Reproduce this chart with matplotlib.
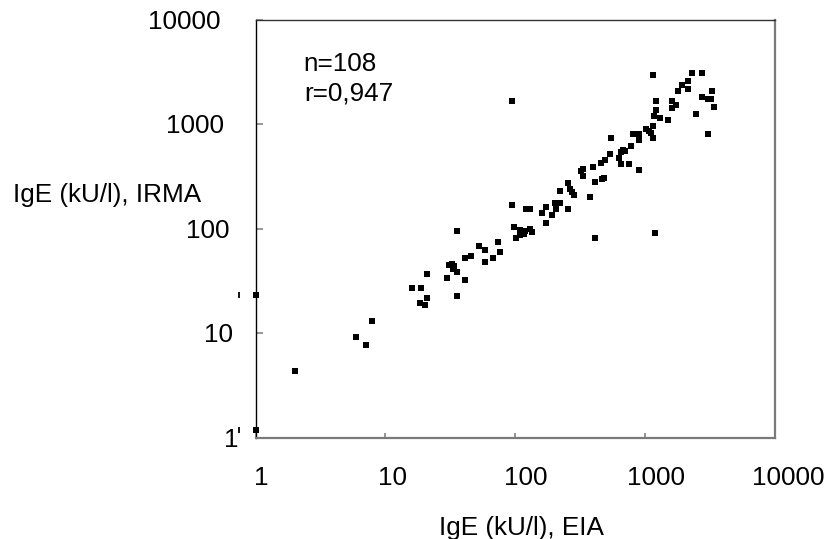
import matplotlib
matplotlib.use("Agg")
import matplotlib.pyplot as plt
import matplotlib.transforms as mtransforms
import numpy as np

# IgE concentrations (kU/l) measured by EIA (x) and by IRMA (y)
eia = [
    1, 1, 2.0, 5.9, 7.05, 7.9, 15.9, 18.8, 18.4, 20.2,
    21.0, 21.0, 29.6, 30.9, 32.3, 33.0, 34, 35.3, 35.6, 35.6,
    40.9, 41.1, 45.5, 52.7, 58.3, 58.3, 67, 74.3, 76.6, 94.4,
    94.4, 98.1, 101, 108, 113, 117, 122, 129, 129, 135,
    160, 171, 171, 191, 204, 205, 221, 221, 253, 253,
    262, 272, 283, 323, 330, 334, 374, 399, 411, 411,
    458, 464, 482, 491, 534, 547, 629, 650, 650, 670,
    701, 751, 776, 806, 892, 892, 892, 1019, 1072, 1107,
    1143, 1143, 1143, 1180, 1187, 1217, 1217, 1313, 1510, 1610,
    1620, 1737, 1804, 1935, 2142, 2154, 2296, 2461, 2742, 2742,
    3053, 3053, 3194, 3275, 3402, 119, 109,
]
irma = [
    23.3, 1.19, 4.4, 9.2, 7.7, 13.1, 27.4, 27.4, 19.5, 18.6,
    22.0, 37, 33.9, 44.8, 46.4, 41.6, 44, 38.6, 23, 95.7,
    32.5, 52.6, 54.6, 67.9, 62.2, 48.2, 52.6, 74.1, 59.5, 1693,
    169, 105, 80.9, 97.8, 93.6, 89, 156, 156, 100, 93,
    143, 162, 114, 136, 177, 155, 177, 228, 156, 274,
    240, 223, 211, 357, 322, 373, 200, 387, 284, 80.9,
    425, 300, 310, 457, 522, 741, 481, 422, 549, 570,
    557, 422, 622, 809, 809, 709, 370, 896, 865, 821,
    964, 741, 2972, 1200, 92, 1360, 1693, 1149, 1100, 1693,
    1431, 1540, 2108, 2387, 2585, 2186, 3107, 1255, 3107, 1848,
    809, 1769, 1769, 2108, 1484, 95.5, 87.4,
]

tick_values = [1, 10, 100, 1000, 10000]
tick_labels = ["1", "10", "100", "1000", "10000"]
x_title = "IgE (kU/l), EIA"
y_title = "IgE (kU/l), IRMA"
stats_lines = ["n=108", "r=0,947"]

# layout (pixels at 100 dpi)
W, H, DPI = 826, 539, 100
AX_L, AX_R, AX_T, AX_B = 255.5, 775.0, 20.0, 437.7
FS = 18.8
FONT = "Liberation Sans"
xlab_dx = [5.5, 7, 10, 11, 13]          # horizontal shift of x tick labels
xlab_base = -47                          # baseline below the bottom spine
ylab_right = [-17, -22, -26, -31, -35]  # right edge of y tick labels from spine
ylab_dy = [-9, -9, -9, -9, -9]           # baseline offset (down) from tick

plt.rcParams["font.family"] = [FONT, "DejaVu Sans"]

fig = plt.figure(figsize=(W / DPI, H / DPI), dpi=DPI)
ax = fig.add_axes([AX_L / W, 1 - AX_B / H, (AX_R - AX_L) / W, (AX_B - AX_T) / H])

x = np.asarray(eia, dtype=float)
y = np.asarray(irma, dtype=float)

ax.set_xscale("log")
ax.set_yscale("log")
ax.set_xlim(tick_values[0], tick_values[-1])
ax.set_ylim(tick_values[0], tick_values[-1])

ax.plot(x, y, linestyle="none", marker="s", markersize=3.8,
        color="black", markeredgewidth=0, clip_on=False, zorder=3)

# points lying on the left edge leave a small stroke beside the axis
edge = x <= tick_values[0]
shift = mtransforms.ScaledTranslation(-17 / DPI, 0, fig.dpi_scale_trans)
ax.plot(x[edge], y[edge], linestyle="none", marker="|", markersize=4,
        markeredgewidth=1.3, color="black", clip_on=False,
        transform=ax.transData + shift)

# frame
ax.spines["left"].set_color("black")
ax.spines["left"].set_linewidth(1.0)
ax.spines["top"].set_color("#333333")
ax.spines["top"].set_linewidth(1.0)
for side in ("right", "bottom"):
    ax.spines[side].set_color("#7a7a7a")
    ax.spines[side].set_linewidth(1.6)

ax.set_xticks(tick_values)
ax.set_yticks(tick_values)
ax.xaxis.set_minor_locator(matplotlib.ticker.NullLocator())
ax.yaxis.set_minor_locator(matplotlib.ticker.NullLocator())
ax.tick_params(axis="x", direction="in", length=3.6, width=1.1, color="#7a7a7a",
               labelbottom=False)
ax.tick_params(axis="y", direction="in", length=5.0, width=1.1, color="#7a7a7a",
               labelleft=False)

for v, lab, dx in zip(tick_values, tick_labels, xlab_dx):
    ax.annotate(lab, xy=(v, 0), xycoords=ax.get_xaxis_transform(),
                xytext=(dx, xlab_base), textcoords="offset pixels",
                ha="center", va="baseline", fontsize=FS, annotation_clip=False)

for v, lab, rx, dy in zip(tick_values, tick_labels, ylab_right, ylab_dy):
    ax.annotate(lab, xy=(0, v), xycoords=ax.get_yaxis_transform(),
                xytext=(rx, dy), textcoords="offset pixels",
                ha="right", va="baseline", fontsize=FS, annotation_clip=False)

# axis titles
fig.text(521 / W, 1 - 534.7 / H, x_title, ha="center", va="baseline", fontsize=FS)
fig.text(13.3 / W, 1 - 202.5 / H, y_title, ha="left", va="baseline", fontsize=FS)

# statistics
for i, line in enumerate(stats_lines):
    base = 70.6 + 30 * i
    ax.text((303.8 - AX_L) / (AX_R - AX_L), 1 - (base - AX_T) / (AX_B - AX_T),
            line, transform=ax.transAxes, ha="left", va="baseline", fontsize=FS)

fig.savefig("out.png", dpi=DPI, facecolor="white")
